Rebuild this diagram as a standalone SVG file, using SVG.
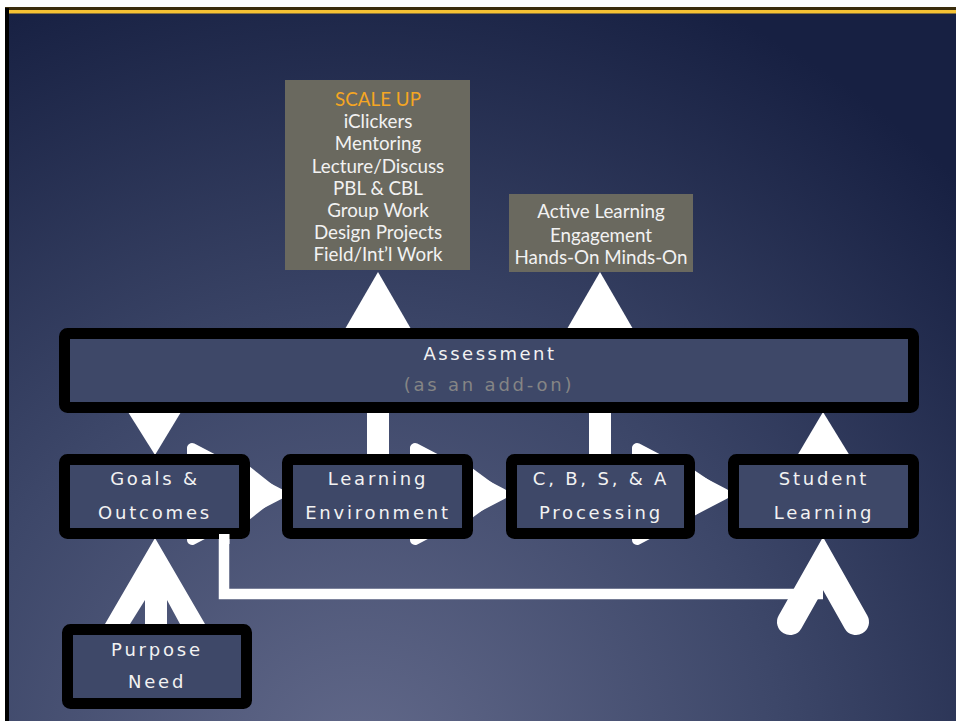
<svg xmlns="http://www.w3.org/2000/svg" width="956" height="721" viewBox="0 0 956 721">
  <defs>
    <radialGradient id="bg" gradientUnits="userSpaceOnUse" cx="360" cy="770" r="840">
      <stop offset="0" stop-color="#62698a"/>
      <stop offset="0.5" stop-color="#3d4769"/>
      <stop offset="1" stop-color="#172042"/>
    </radialGradient>
    <style>
      .box { fill: #3e4868; stroke: #000; stroke-width: 11; }
      .note { fill: #6a695f; }
      .lbl { font-family: "DejaVu Sans", "Liberation Sans", sans-serif; font-size: 18px; fill: #f2f2f2; letter-spacing: 2.8px; text-anchor: middle; }
      .sub { fill: #858585; }
      .nt { font-family: Lato, "Open Sans", sans-serif; font-size: 18.8px; fill: #f2f2f2; text-anchor: middle; }
      .hot { fill: #f5a623; }
      .w { fill: #fff; }
      .flow { fill: #fff; stroke: #fff; stroke-width: 10; stroke-linejoin: round; }
    </style>
  </defs>

  <!-- slide background and header rule -->
  <rect width="956" height="721" fill="#fff"/>
  <rect x="5" y="8" width="951" height="713" fill="url(#bg)"/>
  <rect x="5" y="7" width="951" height="3" fill="#3a2c0c"/>
  <rect x="9" y="10" width="947" height="3.5" fill="#f6c233"/>
  <rect x="5" y="8" width="4" height="713" fill="#000"/>

  <g id="connectors">
    <!-- arrows up to the practice boxes -->
    <polygon class="w" points="345,329 411,329 378,272"/>
    <polygon class="w" points="567,329 633,329 600,272"/>
    <!-- links between assessment and the process row -->
    <polygon class="w" points="128,412 181,412 155,455"/>
    <rect class="w" x="367" y="410" width="22" height="48"/>
    <rect class="w" x="589" y="410" width="22" height="48"/>
    <polygon class="w" points="797,456 850,456 823,412"/>
    <!-- rounded flow arrows behind the process row -->
    <polygon class="flow" points="192,448 192,540 280,494"/>
    <polygon class="flow" points="415,448 415,540 503,494"/>
    <polygon class="flow" points="637,448 637,540 725,494"/>
    <polygon class="w" points="249,466 249,520 283,493"/>
    <polygon class="w" points="472,468 472,518 506,493"/>
    <polygon class="w" points="694,470 694,516 728,493"/>
    <!-- purpose feeds goals -->
    <path class="w" d="M105,624 L155,538 L205,624 L180,624 L167,600 L167,624 L145,624 L145,600 L130,624 Z"/>
    <!-- feedback loop from goals to student learning -->
    <path d="M224,534 V594 H823" fill="none" stroke="#fff" stroke-width="10.5"/>
    <path d="M790,622 L823,563.5 L856,622" fill="none" stroke="#fff" stroke-width="26" stroke-linecap="round" stroke-linejoin="miter"/>
  </g>

  <g id="scale-up">
    <rect class="note" x="285" y="80" width="185" height="190"/>
    <text class="nt hot" x="378" y="106">SCALE UP</text>
    <text class="nt" x="378" y="128">iClickers</text>
    <text class="nt" x="378" y="150">Mentoring</text>
    <text class="nt" x="378" y="172.5">Lecture/Discuss</text>
    <text class="nt" x="378" y="195">PBL &amp; CBL</text>
    <text class="nt" x="378" y="217">Group Work</text>
    <text class="nt" x="378" y="239">Design Projects</text>
    <text class="nt" x="378" y="261">Field/Int’l Work</text>
  </g>

  <g id="active-learning">
    <rect class="note" x="509" y="194" width="184" height="78"/>
    <text class="nt" x="601" y="218">Active Learning</text>
    <text class="nt" x="601" y="242">Engagement</text>
    <text class="nt" x="601" y="264">Hands-On Minds-On</text>
  </g>

  <g id="assessment">
    <rect class="box" x="64.5" y="333.5" width="849" height="74" rx="3"/>
    <text class="lbl" x="490" y="360" style="letter-spacing:2.5px">Assessment</text>
    <text class="lbl sub" x="489" y="391">(as an add-on)</text>
  </g>

  <g id="goals">
    <rect class="box" x="64.5" y="459.5" width="180" height="74" rx="3"/>
    <text class="lbl" x="155" y="485">Goals &amp;</text>
    <text class="lbl" x="155" y="519">Outcomes</text>
  </g>

  <g id="environment">
    <rect class="box" x="287.5" y="459.5" width="180" height="74" rx="3"/>
    <text class="lbl" x="378" y="485">Learning</text>
    <text class="lbl" x="378" y="519">Environment</text>
  </g>

  <g id="processing">
    <rect class="box" x="511.5" y="459.5" width="178" height="74" rx="3"/>
    <text class="lbl" x="601" y="485">C, B, S, &amp; A</text>
    <text class="lbl" x="601" y="519">Processing</text>
  </g>

  <g id="student-learning">
    <rect class="box" x="733.5" y="459.5" width="180" height="74" rx="3"/>
    <text class="lbl" x="824" y="485">Student</text>
    <text class="lbl" x="824" y="519">Learning</text>
  </g>

  <!-- loop line is drawn over the goals frame -->
  <rect class="w" x="219" y="534" width="10.5" height="10"/>

  <g id="purpose">
    <rect class="box" x="67.5" y="629.5" width="179" height="74" rx="3"/>
    <text class="lbl" x="157" y="656">Purpose</text>
    <text class="lbl" x="157" y="688">Need</text>
  </g>
</svg>
